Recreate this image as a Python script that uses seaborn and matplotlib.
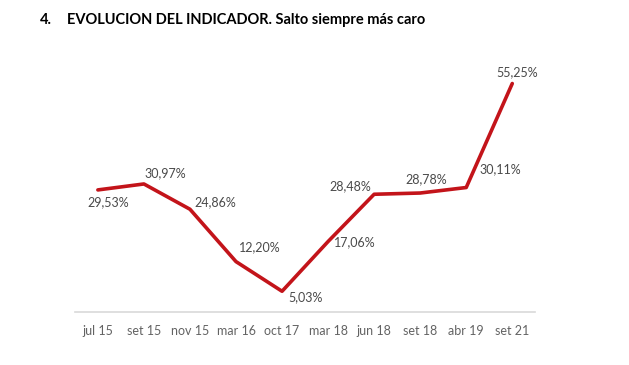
import pandas as pd
import seaborn as sns
import matplotlib.pyplot as plt

# Data
periodos = ["jul 15", "set 15", "nov 15", "mar 16", "oct 17",
            "mar 18", "jun 18", "set 18", "abr 19", "set 21"]
valores = [29.53, 30.97, 24.86, 12.20, 5.03, 17.06, 28.48, 28.78, 30.11, 55.25]
etiquetas = ["29,53%", "30,97%", "24,86%", "12,20%", "5,03%",
             "17,06%", "28,48%", "28,78%", "30,11%", "55,25%"]

# label offsets in pixels (dx, dy) relative to each point
offsets = [(10, -12), (21, 11), (25, 7), (24, 14), (23, -6),
           (27, -1), (-24, 8), (6, 14), (34, 18), (5, 11)]

df = pd.DataFrame({"periodo": periodos, "valor": valores})

sns.set_theme(style="white")
plt.rcParams["font.family"] = ["Lato", "DejaVu Sans"]

fig = plt.figure(figsize=(6.29, 3.65), dpi=100)
ax = fig.add_axes([0.119, 0.145, 0.732, 0.68])

sns.lineplot(data=df, x="periodo", y="valor", sort=False, color="#C3141A",
             linewidth=2.6, ax=ax)

for i, (v, lab, (dx, dy)) in enumerate(zip(valores, etiquetas, offsets)):
    ax.annotate(lab, (i, v), xytext=(dx, dy), textcoords="offset pixels",
                ha="center", va="center", fontsize=9, color="#4a4a4a")

ax.set_xlim(-0.5, len(periodos) - 0.5)
ax.set_ylim(0, 60)
ax.set_xlabel("")
ax.set_ylabel("")
ax.set_yticks([])
sns.despine(ax=ax, left=True)
ax.spines["bottom"].set_color("#D9D9D9")
ax.spines["bottom"].set_linewidth(1.2)
ax.tick_params(axis="x", length=0, pad=9, labelsize=9, labelcolor="#636363")

fig.text(0.064, 0.945, "4.", fontsize=10.5, fontweight="bold",
         color="black", va="center")
fig.text(0.107, 0.945, "EVOLUCION DEL INDICADOR. Salto siempre más caro",
         fontsize=10.5, fontweight="bold", color="black", va="center")

fig.savefig("out.png", dpi=100, facecolor="white")
